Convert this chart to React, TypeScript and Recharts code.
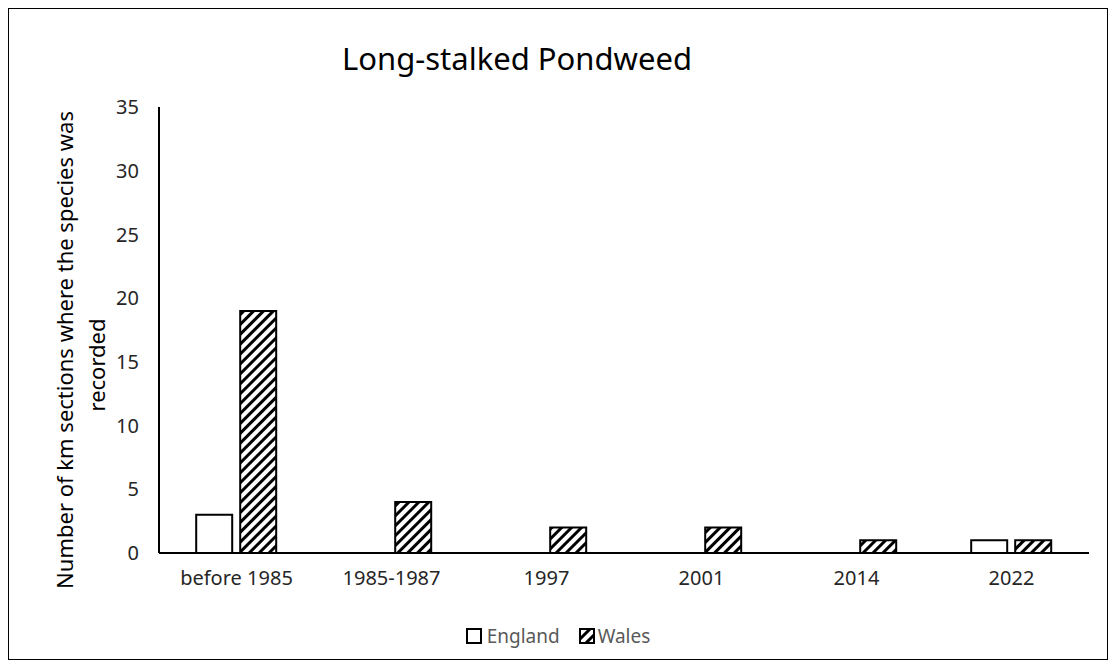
import { BarChart, Bar, XAxis, YAxis, Label } from "recharts";

// survey periods along the x axis
const periods = ["before 1985", "1985-1987", "1997", "2001", "2014", "2022"];
// km sections with a record, per country
const england = [3, 0, 0, 0, 0, 1];
const wales = [19, 4, 2, 2, 1, 1];
const yTicks = [0, 5, 10, 15, 20, 25, 30, 35];

const data = periods.map((name, i) => ({
  name,
  England: england[i],
  Wales: wales[i],
}));

const FONT = "'Noto Sans', sans-serif";
const GREY = "#595959";
const TEXT = "#262626";

// two-line rotated y axis title
function YTitle() {
  return (
    <g fontFamily={FONT} fontSize={22} fill="#000" textAnchor="middle">
      <text transform="translate(56, 341) rotate(-90)" dy="0.35em">
        Number of km sections where the species was
      </text>
      <text transform="translate(88, 356) rotate(-90)" dy="0.35em">
        recorded
      </text>
    </g>
  );
}

function LegendBox() {
  return (
    <div
      style={{
        position: "absolute",
        left: 0,
        width: 1098,
        top: 614,
        display: "flex",
        justifyContent: "center",
        alignItems: "center",
        fontFamily: FONT,
        fontSize: 19,
        color: GREY,
      }}
    >
      <svg width={16} height={16} style={{ marginRight: 5 }}>
        <rect x={1} y={1} width={14} height={14} fill="#fff" stroke="#000" strokeWidth={2} />
      </svg>
      <span style={{ marginRight: 19 }}>England</span>
      <svg width={16} height={16} style={{ marginRight: 3 }}>
        <rect x={1} y={1} width={14} height={14} fill="url(#hatch)" stroke="#000" strokeWidth={2} />
      </svg>
      <span>Wales</span>
    </div>
  );
}

export default function App() {
  return (
    <div
      style={{
        position: "relative",
        width: 1098,
        height: 650,
        border: "1px solid #000",
        background: "#fff",
      }}
    >
      <div
        style={{
          position: "absolute",
          left: 0,
          width: 1016,
          top: 28,
          textAlign: "center",
          fontFamily: FONT,
          fontSize: 31,
          color: "#000",
        }}
      >
        Long-stalked Pondweed
      </div>
      <BarChart
        width={1098}
        height={650}
        data={data}
        margin={{ top: 98, right: 18, left: 0, bottom: 76 }}
        barCategoryGap="24%"
        barGap={8}
      >
        <defs>
          <pattern
            id="hatch"
            patternUnits="userSpaceOnUse"
            width={7}
            height={7}
            patternTransform="rotate(45)"
          >
            <rect width={7} height={7} fill="#fff" />
            <line x1={0} y1={0} x2={0} y2={7} stroke="#000" strokeWidth={6} />
          </pattern>
        </defs>
        <XAxis
          dataKey="name"
          height={30}
          axisLine={{ stroke: "#000", strokeWidth: 2 }}
          tickLine={false}
          tickMargin={12}
          tick={{ fill: TEXT, fontFamily: FONT, fontSize: 20 }}
        />
        <YAxis
          width={150}
          domain={[0, 35]}
          ticks={yTicks}
          axisLine={{ stroke: "#000", strokeWidth: 2 }}
          tickLine={false}
          tickMargin={14}
          tick={{ fill: TEXT, fontFamily: FONT, fontSize: 20 }}
        >
          <Label content={<YTitle />} />
        </YAxis>
        <Bar
          dataKey="England"
          fill="#fff"
          stroke="#000"
          strokeWidth={2}
          isAnimationActive={false}
        />
        <Bar
          dataKey="Wales"
          fill="url(#hatch)"
          stroke="#000"
          strokeWidth={2}
          isAnimationActive={false}
        />
      </BarChart>
      <LegendBox />
    </div>
  );
}
